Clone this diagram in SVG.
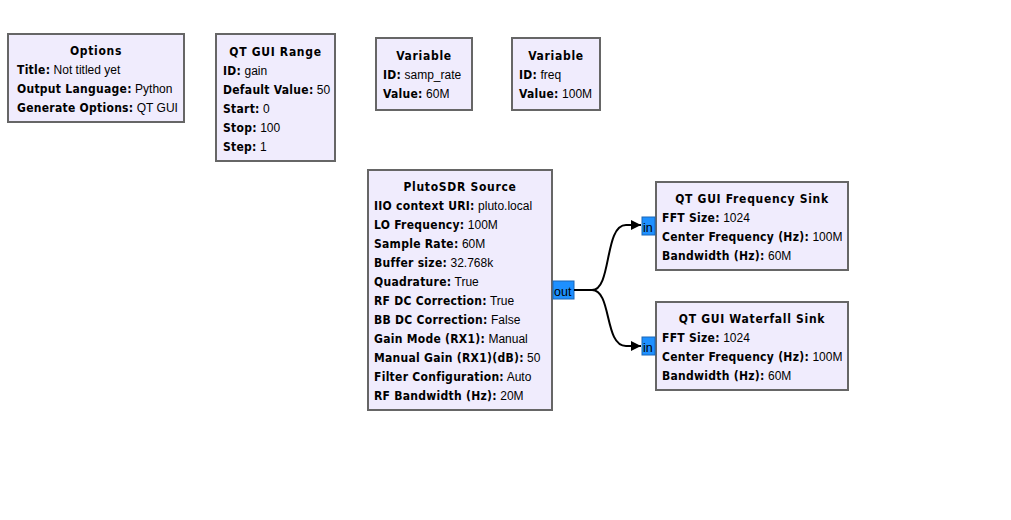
<svg xmlns="http://www.w3.org/2000/svg" width="1011" height="520" viewBox="0 0 1011 520">
<defs>
<style>
.blk{fill:#f0ecfd;stroke:#666;stroke-width:2}
text{font-family:"Liberation Sans",Arial,sans-serif;font-size:12px;fill:#000}
.k{font-family:"DejaVu Sans Condensed","DejaVu Sans",sans-serif;font-weight:bold;letter-spacing:0.28px}
.t{font-family:"DejaVu Sans Condensed","DejaVu Sans",sans-serif;font-weight:bold;text-anchor:middle;letter-spacing:0.7px}
.port{fill:#1e90ff;stroke:#1a66b8;stroke-width:1}
.pl{font-size:12.5px;fill:#000}
.wire{fill:none;stroke:#000;stroke-width:2}
</style>
<marker id="arr" viewBox="0 0 10 10" refX="10" refY="5" markerWidth="13" markerHeight="10" markerUnits="userSpaceOnUse" orient="auto">
<path d="M0,0 L10,5 L0,10 z" fill="#000"/>
</marker>
</defs>
<rect width="1011" height="520" fill="#fff"/>

<g id="options">
<rect class="blk" x="8" y="34" width="176" height="88"/>
<text class="t" x="96" y="55">Options</text>
<text x="17" y="74"><tspan class="k">Title:</tspan> Not titled yet</text>
<text x="17" y="93"><tspan class="k">Output Language:</tspan> Python</text>
<text x="17" y="112"><tspan class="k">Generate Options:</tspan> QT GUI</text>
</g>

<g id="qt_gui_range">
<rect class="blk" x="216" y="34" width="119" height="127"/>
<text class="t" x="275.5" y="56">QT GUI Range</text>
<text x="223" y="75"><tspan class="k">ID:</tspan> gain</text>
<text x="223" y="94"><tspan class="k">Default Value:</tspan> 50</text>
<text x="223" y="113"><tspan class="k">Start:</tspan> 0</text>
<text x="223" y="132"><tspan class="k">Stop:</tspan> 100</text>
<text x="223" y="151"><tspan class="k">Step:</tspan> 1</text>
</g>

<g id="variable_samp_rate">
<rect class="blk" x="376" y="38" width="96" height="72"/>
<text class="t" x="424" y="60">Variable</text>
<text x="383" y="79"><tspan class="k">ID:</tspan> samp_rate</text>
<text x="383" y="98"><tspan class="k">Value:</tspan> 60M</text>
</g>

<g id="variable_freq">
<rect class="blk" x="512" y="38" width="88" height="72"/>
<text class="t" x="556" y="60">Variable</text>
<text x="519" y="79"><tspan class="k">ID:</tspan> freq</text>
<text x="519" y="98"><tspan class="k">Value:</tspan> 100M</text>
</g>

<g id="plutosdr_source">
<rect class="blk" x="368" y="170" width="184" height="240"/>
<text class="t" x="460" y="191">PlutoSDR Source</text>
<text x="374" y="210"><tspan class="k">IIO context URI:</tspan> pluto.local</text>
<text x="374" y="229"><tspan class="k">LO Frequency:</tspan> 100M</text>
<text x="374" y="248"><tspan class="k">Sample Rate:</tspan> 60M</text>
<text x="374" y="267"><tspan class="k">Buffer size:</tspan> 32.768k</text>
<text x="374" y="286"><tspan class="k">Quadrature:</tspan> True</text>
<text x="374" y="305"><tspan class="k">RF DC Correction:</tspan> True</text>
<text x="374" y="324"><tspan class="k">BB DC Correction:</tspan> False</text>
<text x="374" y="343"><tspan class="k">Gain Mode (RX1):</tspan> Manual</text>
<text x="374" y="362"><tspan class="k">Manual Gain (RX1)(dB):</tspan> 50</text>
<text x="374" y="381"><tspan class="k">Filter Configuration:</tspan> Auto</text>
<text x="374" y="400"><tspan class="k">RF Bandwidth (Hz):</tspan> 20M</text>
<rect class="port" x="553" y="281" width="21" height="18"/>
<text class="pl" x="554" y="296">out</text>
</g>

<g id="qt_gui_freq_sink">
<rect class="blk" x="656" y="182" width="192" height="88"/>
<text class="t" x="752" y="203">QT GUI Frequency Sink</text>
<text x="662" y="222"><tspan class="k">FFT Size:</tspan> 1024</text>
<text x="662" y="241"><tspan class="k">Center Frequency (Hz):</tspan> 100M</text>
<text x="662" y="260"><tspan class="k">Bandwidth (Hz):</tspan> 60M</text>
<rect class="port" x="642" y="217" width="13" height="18"/>
<text class="pl" x="643" y="232">in</text>
</g>

<g id="qt_gui_waterfall_sink">
<rect class="blk" x="656" y="302" width="192" height="88"/>
<text class="t" x="752" y="323">QT GUI Waterfall Sink</text>
<text x="662" y="342"><tspan class="k">FFT Size:</tspan> 1024</text>
<text x="662" y="361"><tspan class="k">Center Frequency (Hz):</tspan> 100M</text>
<text x="662" y="380"><tspan class="k">Bandwidth (Hz):</tspan> 60M</text>
<rect class="port" x="642" y="337" width="13" height="18"/>
<text class="pl" x="643" y="352">in</text>
</g>

<g id="connectors">
<path class="wire" d="M574,290 H592 C612,290 604,225 626,225 H641" marker-end="url(#arr)"/>
<path class="wire" d="M574,290 H592 C612,290 604,346 626,346 H641" marker-end="url(#arr)"/>
</g>
</svg>
